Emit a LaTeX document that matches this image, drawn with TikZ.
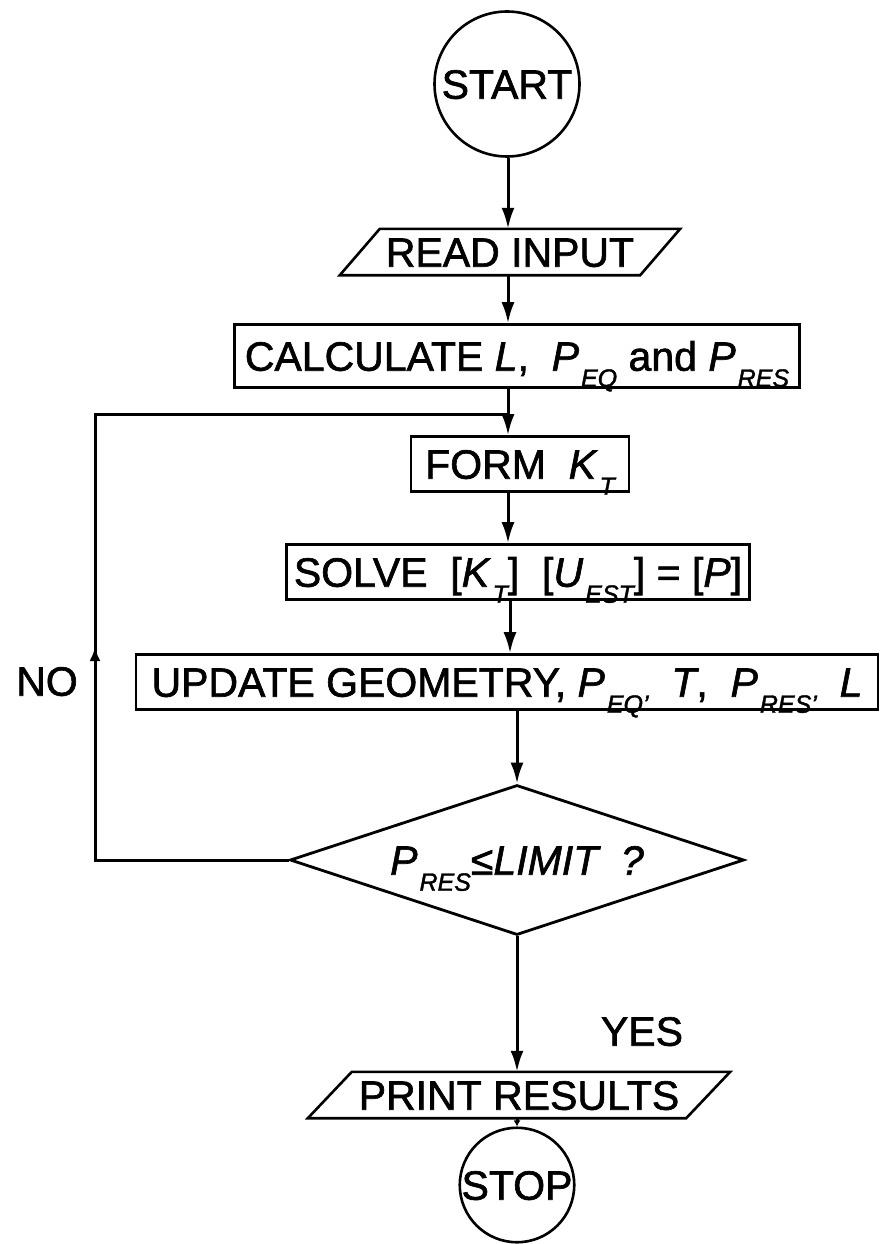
\documentclass[tikz,border=0pt]{standalone}
\usepackage{fontspec}
\setmainfont{Liberation Sans}[UprightFeatures={FakeBold=1.5},ItalicFeatures={FakeBold=1.5}]
\usetikzlibrary{shapes.geometric,arrows.meta,calc}
\newcommand\sbs[1]{\hspace{2pt}\raisebox{-16pt}{\fontsize{25}{25}\selectfont\itshape #1}}
\newcommand\iv[1]{\textit{#1}}
\begin{document}
\begin{tikzpicture}[x=1pt,y=-1pt,
  every node/.style={font=\fontsize{41}{45}\selectfont},
  txt/.style={inner sep=0pt, text height=29.4pt, text depth=0pt},
  boxst/.style={draw, line width=2.6pt, txt},
  shp/.style={line width=2.6pt, line join=miter},
  conn/.style={line width=3pt},
  arr/.style={conn, -{Latex[length=21pt,width=13pt]}},
  uparr/.style={conn, -{Latex[length=14pt,width=11pt]}},
  tinyarr/.style={conn, -{Latex[length=6pt,width=7pt]}}
]
\useasboundingbox (0,0) rectangle (880,1244);
\coordinate (ax) at (508,0);
% nodes
\node[circle, draw, line width=2.6pt, minimum size=145pt, txt] (start) at (507,84) {START};
\node[txt, minimum width=300pt, minimum height=46pt] (read) at (510,252) {READ INPUT};
\draw[shp] ($(read.north west)+(20,0)$) -- ($(read.north east)+(20,0)$) -- ($(read.south east)+(-20,0)$) -- ($(read.south west)+(-20,0)$) -- cycle;
\node[boxst, minimum width=565pt, minimum height=63pt] (calc) at (517,356) {CALCULATE \iv{L}, \ \iv{P}\sbs{EQ} and \iv{P}\sbs{RES}};
\node[boxst, minimum width=218pt, minimum height=55pt] (form) at (520,464) {FORM \ \iv{K}\sbs{T}};
\node[boxst, minimum width=463pt, minimum height=55pt] (solve) at (518,572) {SOLVE \ [\iv{K}\sbs{T}] \ [\iv{U}\sbs{EST}] = [\iv{P}]};
\node[boxst, minimum width=742pt, minimum height=55pt] (upd) at (507,682) {UPDATE GEOMETRY, \iv{P}\sbs{EQ'} \ \iv{T}, \ \iv{P}\sbs{RES'} \ \iv{L}};
\node[diamond, aspect=3, draw, line width=2.8pt, minimum width=454pt, minimum height=150pt, txt] (dec) at (517,860) {\itshape P\sbs{RES}≤LIMIT \ ?};
\node[txt, minimum width=378pt, minimum height=46pt] (prt) at (519,1095) {PRINT RESULTS};
\draw[shp] ($(prt.north west)+(22,0)$) -- ($(prt.north east)+(22,0)$) -- ($(prt.south east)+(-22,0)$) -- ($(prt.south west)+(-22,0)$) -- cycle;
\node[circle, draw, line width=2.6pt, minimum size=114pt, txt] (stop) at (517,1185) {STOP};
\node[txt] (no) at (47,681) {NO};
\node[txt] (yes) at (642,1031) {YES};
% connectors
\draw[arr] (start.south -| ax) -- (read.north -| ax);
\draw[arr] (read.south -| ax) -- (calc.north -| ax);
\coordinate (j) at (508,414);
\draw[arr] (calc.south -| ax) -- (form.north -| ax);
\draw[arr] (form.south -| ax) -- (solve.north -| ax);
\draw[arr] ($(solve.south -| ax)+(2,0)$) -- ($(upd.north -| ax)+(2,0)$);
\draw[arr] (upd.south -| dec.north) -- (dec.north);
\draw[arr] (dec.south) -- (dec.south |- prt.north);
\draw[tinyarr] (prt.south -| stop.north) -- (stop.north);
% loop back
\coordinate (lb) at (95,860);
\coordinate (lm) at (95,647);
\coordinate (lt) at (95,414);
\draw[conn] (dec.west) -- (lb) -- (lt) -- (j);
\draw[uparr] (lb) -- (lm);
\end{tikzpicture}
\end{document}
